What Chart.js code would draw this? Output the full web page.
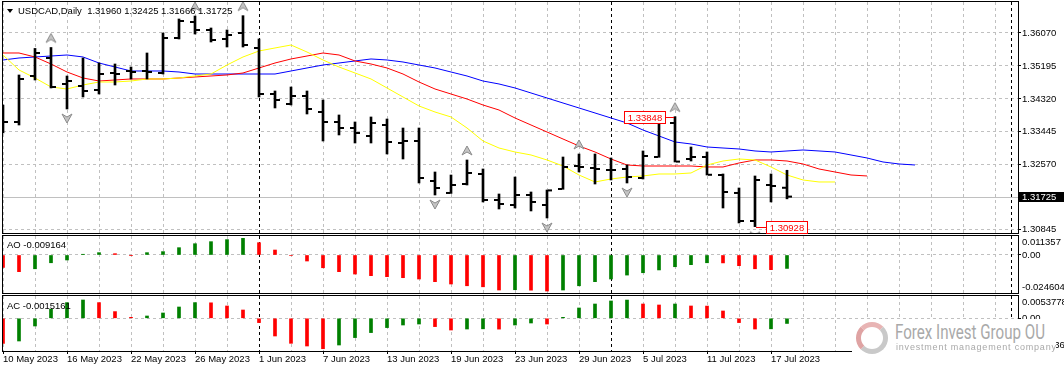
<!DOCTYPE html>
<html>
<head>
<meta charset="utf-8">
<title>USDCAD Daily</title>
<script src="https://cdn.jsdelivr.net/npm/chart.js@4.4.1/dist/chart.umd.min.js"></script>
<style>
  body { margin: 0; background: #fff; }
  #wrap { position: relative; width: 1064px; height: 372px; overflow: hidden; background: #fff;
          font-family: "Liberation Sans", Arial, sans-serif; }
  #wrap canvas { position: absolute; left: 0; }
  .txt { position: absolute; font-size: 9.5px; line-height: 12px; color: #000; white-space: pre; }
  #tri { position: absolute; left: 7px; top: 9px; width: 0; height: 0;
         border-left: 3px solid transparent; border-right: 3px solid transparent; border-top: 4px solid #000; }
  #logo { position: absolute; left: 852px; top: 319px; width: 204px; height: 53px; background: #fff; }
  #ring { position: absolute; left: 4px; top: 3px; width: 22px; height: 22px; border: 5px solid #c9c9c9;
          border-top-color: #e8b4b4; border-left-color: #dfa3a3; border-radius: 50%; }
  #brand { position: absolute; left: 43px; top: 1px; font-family: Roboto, sans-serif; font-size: 21px;
           color: #a9a9a9; transform: scaleX(0.72); transform-origin: 0 0; white-space: nowrap; }
  #slogan { position: absolute; left: 44px; top: 23px; font-size: 9px; color: #a9a9a9; letter-spacing: 0.8px; white-space: nowrap; }
</style>
</head>
<body>
<div id="wrap">
  <canvas id="cMain" width="1064" height="235" style="top:0"></canvas>
  <canvas id="cAO" width="1064" height="61" style="top:234px"></canvas>
  <canvas id="cAC" width="1064" height="78" style="top:294px"></canvas>
  <div id="tri"></div>
  <div class="txt" id="mainTitle" style="left:18px;top:5px"></div>
  <div class="txt" id="aoTitle" style="left:7px;top:239px"></div>
  <div class="txt" id="acTitle" style="left:7px;top:300px"></div>
  <div id="logo">
    <div id="ring"></div>
    <div id="brand">Forex Invest Group OU</div>
    <div id="slogan">investment management company</div>
  </div>
</div>
<script>
// daily bars, 10 May 2023 .. 18 Jul 2023
const openP = [1.33547, 1.33707, 1.34928, 1.35406, 1.34716, 1.34663, 1.34556, 1.35008, 1.35061, 1.35061,
  1.35008, 1.35937, 1.36362, 1.36150, 1.35911, 1.36070, 1.35672, 1.34450, 1.34185, 1.34397,
  1.33972, 1.33707, 1.33547, 1.33335, 1.33627, 1.33149, 1.33202, 1.32140, 1.31822, 1.32060,
  1.32326, 1.31636, 1.31503, 1.31768, 1.31503, 1.31928, 1.32538, 1.32485, 1.32432, 1.32459,
  1.32220, 1.32777, 1.33680, 1.32724, 1.32777, 1.32299, 1.31822, 1.31078, 1.32034, 1.31960];
const highP = [1.34158, 1.34955, 1.35660, 1.35685, 1.34928, 1.35406, 1.35273, 1.35247, 1.35167, 1.35539,
  1.36070, 1.36442, 1.36521, 1.36203, 1.36150, 1.36530, 1.35911, 1.34530, 1.34636, 1.34530,
  1.34291, 1.33893, 1.33707, 1.33840, 1.33786, 1.33547, 1.33547, 1.32379, 1.32299, 1.32698,
  1.32459, 1.31795, 1.32246, 1.31848, 1.31901, 1.32777, 1.32857, 1.32857, 1.32751, 1.32565,
  1.32937, 1.33830, 1.33848, 1.33043, 1.32910, 1.32326, 1.31954, 1.32273, 1.32326, 1.32425];
const lowP = [1.33415, 1.33627, 1.34822, 1.34610, 1.34052, 1.34371, 1.34450, 1.34689, 1.34849, 1.34849,
  1.34981, 1.35911, 1.36043, 1.35831, 1.35698, 1.35698, 1.34371, 1.34079, 1.34158, 1.33919,
  1.33202, 1.33362, 1.33149, 1.33149, 1.32857, 1.32724, 1.32087, 1.31768, 1.31810, 1.32034,
  1.31583, 1.31397, 1.31423, 1.31344, 1.31158, 1.31920, 1.32379, 1.32060, 1.32167, 1.32087,
  1.32193, 1.32770, 1.32645, 1.32671, 1.32299, 1.31423, 1.31025, 1.30928, 1.31583, 1.31666];
const closeP = [1.33707, 1.34849, 1.35539, 1.34636, 1.34795, 1.34530, 1.34981, 1.34981, 1.35034, 1.35034,
  1.35937, 1.36389, 1.36150, 1.35884, 1.36017, 1.35751, 1.34450, 1.34291, 1.34397, 1.34052,
  1.33707, 1.33547, 1.33415, 1.33680, 1.33176, 1.33202, 1.32220, 1.31954, 1.32034, 1.32353,
  1.31636, 1.31529, 1.31768, 1.31583, 1.31890, 1.32512, 1.32512, 1.32459, 1.32432, 1.32246,
  1.32804, 1.33707, 1.32655, 1.32777, 1.32305, 1.31848, 1.31078, 1.32167, 1.32007, 1.31725];

// alligator lines (already shifted forward)
const jaw = [1.35353, 1.35406, 1.35433, 1.35459, 1.35486, 1.35433, 1.35273, 1.35167, 1.35061, 1.35061,
  1.35061, 1.35034, 1.34981, 1.34981, 1.34981, 1.34981, 1.34981, 1.34981, 1.35061, 1.35141,
  1.35220, 1.35273, 1.35327, 1.35380, 1.35353, 1.35300, 1.35220, 1.35141, 1.35034, 1.34928,
  1.34795, 1.34716, 1.34610, 1.34477, 1.34344, 1.34211, 1.34079, 1.33946, 1.33813, 1.33680,
  1.33494, 1.33335, 1.33176, 1.33123, 1.33043, 1.33016, 1.32990, 1.32937, 1.32910, 1.32937,
  1.32963, 1.32937, 1.32910, 1.32831, 1.32751, 1.32645, 1.32592, 1.32565];
const teeth = [1.35539, 1.35539, 1.35433, 1.35247, 1.35034, 1.34875, 1.34795, 1.34822, 1.34849, 1.34849,
  1.34849, 1.34875, 1.34902, 1.34928, 1.34955, 1.35008, 1.35141, 1.35273, 1.35380, 1.35459,
  1.35539, 1.35486, 1.35327, 1.35247, 1.35141, 1.34981, 1.34769, 1.34583, 1.34450, 1.34317,
  1.34158, 1.34025, 1.33813, 1.33627, 1.33441, 1.33255, 1.33070, 1.32910, 1.32724, 1.32565,
  1.32538, 1.32538, 1.32538, 1.32538, 1.32512, 1.32512, 1.32618, 1.32698, 1.32698, 1.32671,
  1.32592, 1.32459, 1.32379, 1.32299, 1.32273];
const lips = [1.35486, 1.35088, 1.34875, 1.34636, 1.34583, 1.34689, 1.34769, 1.34769, 1.34795, 1.34849,
  1.34849, 1.34875, 1.34928, 1.34981, 1.35220, 1.35433, 1.35592, 1.35672, 1.35751, 1.35565,
  1.35353, 1.35167, 1.35008, 1.34849, 1.34610, 1.34371, 1.34132, 1.33972, 1.33840, 1.33547,
  1.33202, 1.33016, 1.32910, 1.32831, 1.32698, 1.32538, 1.32299, 1.32114, 1.32193, 1.32246,
  1.32273, 1.32326, 1.32326, 1.32353, 1.32565, 1.32671, 1.32724, 1.32698, 1.32512, 1.32299,
  1.32167, 1.32114, 1.32114];

// Awesome Oscillator and Accelerator
const aoVals = [-0.0084, -0.0114, -0.0094, -0.0053, -0.0034, 0.0005, 0.0016, 0.0009, -0.0002, 0.0016,
  0.0023, 0.0050, 0.0077, 0.0091, 0.0105, 0.011357, 0.0084, 0.0034, -0.0003, -0.0041,
  -0.0087, -0.0114, -0.0130, -0.0141, -0.0148, -0.0155, -0.0164, -0.0182, -0.0198, -0.0210,
  -0.0217, -0.0239, -0.0237, -0.0240, -0.024604, -0.0239, -0.0210, -0.0182, -0.0164, -0.0137,
  -0.0121, -0.0102, -0.0080, -0.0066, -0.0053, -0.0054, -0.0073, -0.0094, -0.0100, -0.009164];
const acVals = [-0.00735, -0.00667, -0.00226, 0.00265, 0.00461, 0.0053778, 0.00461, 0.00197, 0.00029, 0.00068,
  0.00156, 0.00332, 0.00461, 0.00455, 0.00362, 0.00244, -0.00126, -0.00520, -0.00735, -0.00814,
  -0.0089364, -0.00785, -0.00567, -0.00420, -0.00273, -0.00197, -0.00168, -0.00244, -0.00344, -0.00315,
  -0.00309, -0.00318, -0.00197, -0.00138, -0.00168, 0.00029, 0.00303, 0.00420, 0.00509, 0.00536,
  0.00420, 0.00391, 0.00420, 0.00362, 0.00359, 0.00215, -0.00126, -0.00315, -0.00309, -0.0015161];

const fractalUp = [3, 12, 15, 29, 36, 42];
const fractalDown = [4, 27, 34, 39, 47];

const dateLabels = ['10 May 2023', '16 May 2023', '22 May 2023', '26 May 2023', '1 Jun 2023', '7 Jun 2023',
  '13 Jun 2023', '19 Jun 2023', '23 Jun 2023', '29 Jun 2023', '5 Jul 2023', '11 Jul 2023', '17 Jul 2023'];
const dateLabelBars = [0, 4, 8, 12, 16, 20, 24, 28, 32, 36, 40, 44, 48];
const priceTicks = [1.36070, 1.35195, 1.34320, 1.33445, 1.32570, 1.31695, 1.30845];
const separatorBars = [16, 38, 63];

const gridBars = [];
for (let b = 0; b <= 62; b += 2) gridBars.push(b);
const visibleBars = 63.4375;
const markLookback = 20;
const tickShift = 0.1875;

const GREEN = '#008000', RED = '#ff0000', GRID = '#c0c0c0';
const FONT = '9.5px "Liberation Sans"';
const n = closeP.length - 1;
const lastClose = closeP[n];

Chart.defaults.font.family = 'Liberation Sans';
Chart.defaults.font.size = 9.5;
Chart.defaults.color = '#000';

document.getElementById('mainTitle').textContent =
  'USDCAD,Daily  ' + [openP[n], highP[n], lowP[n], closeP[n]].map(v => v.toFixed(5)).join(' ');
document.getElementById('aoTitle').textContent = 'AO ' + aoVals[n].toFixed(6);
document.getElementById('acTitle').textContent = 'AC ' + acVals[n].toFixed(7);

function makeArrow(up) {
  const c = document.createElement('canvas');
  c.width = 12; c.height = 30;
  const g = c.getContext('2d');
  g.beginPath();
  if (up) { g.moveTo(6, 1); g.lineTo(11, 10); g.lineTo(6, 7); g.lineTo(1, 10); }
  else { g.moveTo(6, 29); g.lineTo(11, 20); g.lineTo(6, 23); g.lineTo(1, 20); }
  g.closePath();
  g.fillStyle = '#c4c4c4'; g.fill();
  g.strokeStyle = '#8a8a8a'; g.lineWidth = 1; g.stroke();
  return c;
}

const framePlugin = {
  id: 'frame',
  beforeDatasetsDraw(chart) {
    const { ctx, chartArea: a, scales: { x } } = chart;
    ctx.save();
    ctx.strokeStyle = '#000'; ctx.lineWidth = 1; ctx.setLineDash([3, 3]);
    separatorBars.forEach(b => {
      const px = Math.round(x.getPixelForValue(b)) + 0.5;
      ctx.beginPath(); ctx.moveTo(px, a.top); ctx.lineTo(px, a.bottom); ctx.stroke();
    });
    ctx.restore();
  },
  afterDraw(chart) {
    const { ctx, chartArea: a } = chart;
    ctx.save();
    ctx.strokeStyle = '#000'; ctx.lineWidth = 1;
    ctx.strokeRect(Math.round(a.left) - 0.5, Math.round(a.top) - 0.5,
      Math.round(a.right - a.left) + 1, Math.round(a.bottom - a.top) + 1);
    ctx.restore();
  }
};

const pricePlugin = {
  id: 'price',
  beforeDatasetsDraw(chart) {
    const { ctx, chartArea: a, scales: { y } } = chart;
    const py = Math.round(y.getPixelForValue(lastClose)) + 0.5;
    ctx.save();
    ctx.strokeStyle = GRID; ctx.lineWidth = 1;
    ctx.beginPath(); ctx.moveTo(a.left, py); ctx.lineTo(a.right, py); ctx.stroke();
    ctx.restore();
  },
  afterDraw(chart) {
    const { ctx, chartArea: a, scales: { x, y }, width } = chart;
    ctx.save();
    ctx.font = FONT;
    ctx.textBaseline = 'middle';
    const py = Math.round(y.getPixelForValue(lastClose));
    ctx.fillStyle = '#000';
    ctx.fillRect(a.right + 1, py - 5, width - a.right - 1, 10);
    ctx.fillStyle = '#fff';
    ctx.fillText(lastClose.toFixed(5), a.right + 4, py);

    // highest high / lowest low of the last bars
    const from = highP.length - markLookback;
    let hi = from, lo = from;
    for (let i = from; i < highP.length; i++) {
      if (highP[i] > highP[hi]) hi = i;
      if (lowP[i] < lowP[lo]) lo = i;
    }
    const mark = (i, v, dir) => {
      const px = x.getPixelForValue(i);
      const my = Math.round(y.getPixelForValue(v)) + 0.5;
      const txt = v.toFixed(5);
      const w = Math.round(ctx.measureText(txt).width) + 7, h = 12;
      const bx = dir < 0 ? Math.round(px - 10 - w) + 0.5 : Math.round(px + 11) + 0.5;
      ctx.strokeStyle = RED; ctx.lineWidth = 1;
      ctx.beginPath();
      if (dir < 0) { ctx.moveTo(bx + w, my); ctx.lineTo(px - 1, my); }
      else { ctx.moveTo(px + 1, my); ctx.lineTo(bx, my); }
      ctx.stroke();
      ctx.fillStyle = '#fff';
      ctx.fillRect(bx, my - h / 2, w, h);
      ctx.strokeRect(bx, my - h / 2, w, h);
      ctx.fillStyle = RED; ctx.textAlign = 'center';
      ctx.fillText(txt, bx + w / 2, my + 0.5);
    };
    mark(hi, highP[hi], -1);
    mark(lo, lowP[lo], 1);
    ctx.restore();
  }
};

const edgePlugin = {
  id: 'edge',
  afterDraw(chart, args, opts) {
    const { ctx, chartArea: a } = chart;
    ctx.save();
    ctx.font = FONT; ctx.fillStyle = '#000'; ctx.textBaseline = 'middle'; ctx.textAlign = 'left';
    ctx.fillText(opts.top, a.right + 4, a.top + 6);
    ctx.fillText(opts.bottom, a.right + 4, a.bottom - 6);
    ctx.restore();
  }
};

function xScale(showLabels) {
  return {
    type: 'linear', min: 0, max: visibleBars, offset: false,
    afterBuildTicks: s => { s.ticks = gridBars.map(v => ({ value: v })); },
    afterFit: s => { s.height = showLabels ? 21 : 0; s.paddingLeft = 0; s.paddingRight = 0; },
    ticks: {
      display: showLabels, autoSkip: false, maxRotation: 0, minRotation: 0, align: 'start', padding: 0,
      callback: v => { const k = dateLabelBars.indexOf(v); return k < 0 ? '' : dateLabels[k]; }
    },
    grid: {
      offset: false, color: GRID, drawTicks: showLabels, tickLength: 3, tickBorderDash: [],
      tickColor: c => (c.tick && dateLabelBars.includes(c.tick.value)) ? '#000' : 'rgba(0,0,0,0)'
    },
    border: { display: false, dash: [3, 3] }
  };
}

function yScale(min, max, ticks, fmt) {
  return {
    type: 'linear', position: 'right', min: min, max: max,
    afterBuildTicks: s => { s.ticks = ticks.map(v => ({ value: v })); },
    afterFit: s => { s.width = 46; s.paddingTop = 0; s.paddingBottom = 0; },
    ticks: { padding: 1, color: '#000', callback: fmt },
    grid: { color: GRID, tickColor: '#000', tickLength: 3, tickBorderDash: [] },
    border: { display: false, dash: [3, 3] }
  };
}

const common = {
  responsive: false,
  animation: false,
  devicePixelRatio: 1,
  events: []
};

const pts = arr => arr.map((v, i) => ({ x: i, y: v }));

new Chart(document.getElementById('cMain'), {
  type: 'scatter',
  data: {
    datasets: [
      { type: 'line', data: pts(jaw), borderColor: '#0000ff', borderWidth: 1, pointRadius: 0, order: 5 },
      { type: 'line', data: pts(teeth), borderColor: '#ff0000', borderWidth: 1, pointRadius: 0, order: 4 },
      { type: 'line', data: pts(lips), borderColor: '#ffff00', borderWidth: 1, pointRadius: 0, order: 3 },
      { type: 'bar', data: highP.map((h, i) => ({ x: i, y: [lowP[i], h] })),
        backgroundColor: '#000', borderWidth: 0, barThickness: 2, order: 2 },
      { type: 'scatter', data: openP.map((o, i) => ({ x: i - tickShift, y: o })),
        pointStyle: 'line', pointRadius: 2, pointBorderWidth: 2, pointBorderColor: '#000', order: 1 },
      { type: 'scatter', data: closeP.map((c, i) => ({ x: i + tickShift, y: c })),
        pointStyle: 'line', pointRadius: 2, pointBorderWidth: 2, pointBorderColor: '#000', order: 1 },
      { type: 'scatter', data: fractalUp.map(i => ({ x: i, y: highP[i] })),
        pointStyle: makeArrow(true), pointRadius: 5, order: 0 },
      { type: 'scatter', data: fractalDown.map(i => ({ x: i, y: lowP[i] })),
        pointStyle: makeArrow(false), pointRadius: 5, order: 0 }
    ]
  },
  options: Object.assign({}, common, {
    layout: { autoPadding: false, padding: { left: 3, top: 2, bottom: 2, right: 0 } },
    plugins: { legend: { display: false }, tooltip: { enabled: false } },
    scales: {
      x: xScale(false),
      y: yScale(1.30759, 1.36893, priceTicks, v => v.toFixed(5))
    }
  }),
  plugins: [framePlugin, pricePlugin]
});

const colorsOf = vals => vals.map((v, i) => (i > 0 && v > vals[i - 1]) ? GREEN : RED);

new Chart(document.getElementById('cAO'), {
  type: 'bar',
  data: {
    datasets: [{ data: pts(aoVals), backgroundColor: colorsOf(aoVals), borderWidth: 0, barThickness: 3 }]
  },
  options: Object.assign({}, common, {
    layout: { autoPadding: false, padding: { left: 3, top: 2, bottom: 2, right: 0 } },
    plugins: {
      legend: { display: false }, tooltip: { enabled: false },
      edge: { top: Math.max(...aoVals).toFixed(6), bottom: Math.min(...aoVals).toFixed(6) }
    },
    scales: {
      x: xScale(false),
      y: yScale(-0.025939, 0.012969, [0], () => '0.00')
    }
  }),
  plugins: [framePlugin, edgePlugin]
});

new Chart(document.getElementById('cAC'), {
  type: 'bar',
  data: {
    datasets: [{ data: pts(acVals), backgroundColor: colorsOf(acVals), borderWidth: 0, barThickness: 3 }]
  },
  options: Object.assign({}, common, {
    layout: { autoPadding: false, padding: { left: 3, top: 2, bottom: 0, right: 0 } },
    plugins: {
      legend: { display: false }, tooltip: { enabled: false },
      edge: { top: Math.max(...acVals).toFixed(7), bottom: Math.min(...acVals).toFixed(7) }
    },
    scales: {
      x: xScale(true),
      y: yScale(-0.009609, 0.006553, [0], () => '0.00')
    }
  }),
  plugins: [framePlugin, edgePlugin]
});
</script>
</body>
</html>
